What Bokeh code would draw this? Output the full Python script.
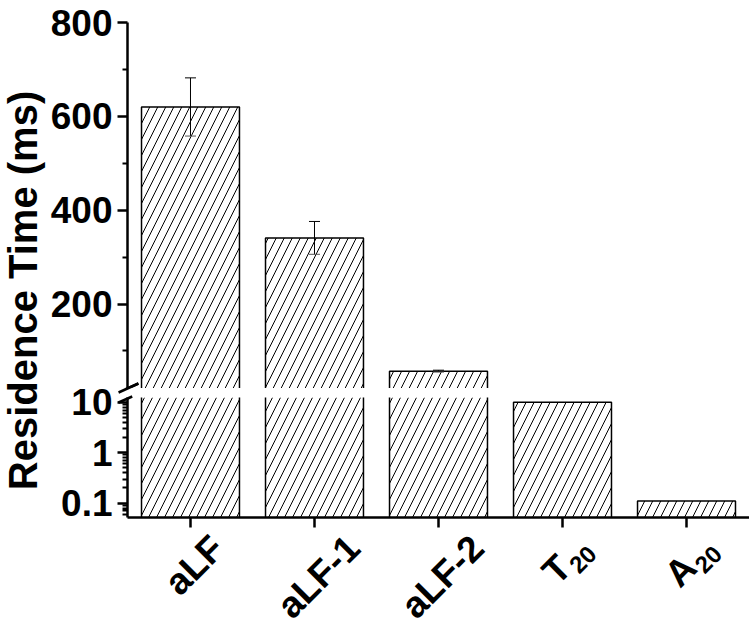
import math
from bokeh.plotting import figure
from bokeh.models import (Range1d, FixedTicker, PrintfTickFormatter,
                          Whisker, TeeHead, ColumnDataSource)
from bokeh.layouts import row, column
from bokeh.core.properties import value
from bokeh.embed import file_html
from bokeh.resources import INLINE

# ---------------- data ----------------
categories = ["aLF", "aLF-1", "aLF-2", "T", "A"]
subscripts = ["", "", "", "20", "20"]
residence_ms = [620, 341, 57, 10, 0.11]
error_ms = [62, 35, 2, 0, 0]

upper_ticks = [200, 400, 600, 800]
upper_minor = [100, 300, 500, 700]
lower_ticks = [0.1, 1, 10]
y_label = "Residence Time (ms)"

# ---------------- layout constants ----------------
FONT = "Liberation Sans"
UP_LO, UP_HI = 20, 800
LOG_LO, LOG_HI = 0.052, 12.4
TOTAL_W, TOTAL_H = 749, 627
LABEL_W = 46
PLOT_W = TOTAL_W - LABEL_W
LEFT = 81
TOP_BORDER, TOP_FRAME = 22, 366
TOP_H = TOP_BORDER + TOP_FRAME
OVERLAP = 12                      # lower canvas slides up under the upper one
BOT_GAP, BOT_FRAME = 9 + OVERLAP, 120
BOT_H = TOTAL_H - TOP_H + OVERLAP
BOT_BORDER = BOT_H - BOT_GAP - BOT_FRAME
BAR_W = 0.79

x_idx = list(range(len(categories)))
xr = Range1d(-0.508, len(categories) - 1 + 0.508)


def outline_source(bottom):
    xs, ys = [], []
    for i, v in zip(x_idx, residence_ms):
        l, r = i - BAR_W / 2, i + BAR_W / 2
        xs.append([l, l, r, r])
        ys.append([bottom, v, v, bottom])
    return ColumnDataSource(dict(xs=xs, ys=ys))


src_all = ColumnDataSource(dict(x=x_idx, top=residence_ms))
err_src = ColumnDataSource(dict(
    x=[i for i, e in zip(x_idx, error_ms) if e > 0],
    upper=[v + e for v, e in zip(residence_ms, error_ms) if e > 0],
    lower=[v - e for v, e in zip(residence_ms, error_ms) if e > 0],
))

fill_style = dict(width=BAR_W, fill_color="white", line_color=None,
                  hatch_pattern="/", hatch_color="black",
                  hatch_scale=16, hatch_weight=1)


def style_y(ax):
    ax.axis_line_color = "black"
    ax.axis_line_width = 2.5
    ax.major_tick_line_color = "black"
    ax.major_tick_line_width = 2.5
    ax.major_tick_out = 10
    ax.major_tick_in = 0
    ax.minor_tick_line_color = "black"
    ax.minor_tick_line_width = 2
    ax.minor_tick_out = 5
    ax.minor_tick_in = 0
    ax.major_label_text_font = FONT
    ax.major_label_text_font_style = "bold"
    ax.major_label_text_font_size = "37px"
    ax.major_label_text_color = "black"
    ax.major_label_standoff = 5


# ---------------- upper (linear) panel ----------------
top = figure(width=PLOT_W, height=TOP_H, x_range=xr,
             y_range=Range1d(UP_LO, UP_HI), output_backend="svg",
             toolbar_location=None, x_axis_location=None,
             min_border_left=LEFT, min_border_right=0,
             min_border_top=TOP_BORDER, min_border_bottom=0)
top.grid.visible = False
top.outline_line_color = None
top.vbar(x="x", top="top", bottom=0, source=src_all, **fill_style)
top.multi_line(xs="xs", ys="ys", source=outline_source(0),
               line_color="black", line_width=1.5)
top.add_layout(Whisker(source=err_src, base="x", upper="upper", lower="lower",
                       line_color="black", line_width=1,
                       upper_head=TeeHead(size=11, line_width=1, line_color="black"),
                       lower_head=TeeHead(size=11, line_width=1, line_color="#555555"),
                       level="overlay"))
style_y(top.yaxis[0])
top.yaxis[0].ticker = FixedTicker(ticks=upper_ticks, minor_ticks=upper_minor)

u_per_px = (UP_HI - UP_LO) / TOP_FRAME
top.segment(x0=[-0.58], y0=[UP_LO - 4 * u_per_px], x1=[-0.42],
            y1=[UP_LO + 5 * u_per_px], line_color="black", line_width=2.5,
            level="overlay")

# ---------------- lower (log) panel ----------------
bot = figure(width=PLOT_W, height=BOT_H, x_range=xr,
             y_range=Range1d(LOG_LO, LOG_HI), y_axis_type="log",
             output_backend="svg", toolbar_location=None,
             min_border_left=LEFT, min_border_right=0,
             min_border_top=BOT_GAP, min_border_bottom=BOT_BORDER,
             styles={"margin-top": f"-{OVERLAP}px"})
bot.grid.visible = False
bot.outline_line_color = None
bot.border_fill_color = None
bot.background_fill_color = None
bot.vbar(x="x", top="top", bottom=1e-3, source=src_all, **fill_style)
bot.multi_line(xs="xs", ys="ys", source=outline_source(1e-3),
               line_color="black", line_width=1.5)
style_y(bot.yaxis[0])
minor_log = [m * 10.0 ** e for e in (-2, -1, 0, 1) for m in range(2, 10)]
bot.yaxis[0].ticker = FixedTicker(ticks=lower_ticks, minor_ticks=minor_log)
bot.yaxis[0].formatter = PrintfTickFormatter(format="%g")

xa = bot.xaxis[0]
xa.ticker = FixedTicker(ticks=x_idx)
xa.axis_line_color = "black"
xa.axis_line_width = 2.5
xa.major_tick_line_color = "black"
xa.major_tick_line_width = 2.5
xa.major_tick_out = 10
xa.major_tick_in = 0
xa.minor_tick_line_color = None
xa.major_label_text_color = None

ppd = BOT_FRAME / math.log10(LOG_HI / LOG_LO)  # pixels per decade


def above_top(px):
    return LOG_HI * 10 ** (px / ppd)


gap_px = BOT_GAP - OVERLAP
bot.segment(x0=[-0.58, -0.58], y0=[above_top(gap_px - 4), above_top(-5)],
            x1=[-0.42, -0.47], y1=[above_top(gap_px + 5), above_top(1)],
            line_color="black", line_width=2.5, level="overlay")

# ---------------- category labels (rotated 45 deg) ----------------
CW = {"a": 0.556, "L": 0.611, "F": 0.611, "-": 0.333, "1": 0.556,
      "2": 0.556, "0": 0.556, "T": 0.611, "A": 0.722}
FS_MAIN, FS_SUB = 37, 24
px_per_x = (PLOT_W - LEFT) / (xr.end - xr.start)
c45 = math.cos(math.radians(45))


def below(px):
    return LOG_LO * 10 ** (-px / ppd)


main = dict(x=[], y=[], text=[])
subs = dict(x=[], y=[], text=[])
for i, (name, sub) in enumerate(zip(categories, subscripts)):
    w_main = sum(CW[c] for c in name) * FS_MAIN
    w_sub = sum(CW[c] for c in sub) * FS_SUB
    gap = 1 if sub else 0
    total = w_main + gap + w_sub
    extent = c45 * (total + 0.72 * FS_MAIN)
    cx = i * px_per_x + 4
    cy = 15 + extent / 2
    d = total / 2 - w_main / 2
    mx, my = cx - d * c45, cy + d * c45
    main["x"].append(mx / px_per_x)
    main["y"].append(below(my))
    main["text"].append(name)
    if sub:
        along = w_main / 2 + gap + w_sub / 2
        down = 0.3 * FS_MAIN
        sx = mx + along * c45 + down * c45
        sy = my - along * c45 + down * c45
        subs["x"].append(sx / px_per_x)
        subs["y"].append(below(sy))
        subs["text"].append(sub)

txt_style = dict(angle=math.pi / 4, text_align="center", text_baseline="middle",
                 text_font=value(FONT), text_font_style="bold",
                 text_color="black", level="overlay")
bot.text(x="x", y="y", text="text", source=ColumnDataSource(main),
         text_font_size=f"{FS_MAIN}px", **txt_style)
bot.text(x="x", y="y", text="text", source=ColumnDataSource(subs),
         text_font_size=f"{FS_SUB}px", **txt_style)

# ---------------- y-axis title ----------------
lab = figure(width=LABEL_W, height=TOTAL_H, x_range=Range1d(0, LABEL_W),
             y_range=Range1d(0, TOTAL_H), x_axis_location=None,
             y_axis_location=None, toolbar_location=None,
             output_backend="svg", min_border=0)
lab.grid.visible = False
lab.outline_line_color = None
lab.text(x=[22], y=[TOTAL_H - 290], text=[y_label], angle=math.pi / 2,
         text_align="center", text_baseline="middle",
         text_font=value(FONT), text_font_style="bold",
         text_font_size="40px", text_color="black")

layout = row(lab, column(top, bot))
open("out.html", "w").write(file_html(layout, INLINE))
